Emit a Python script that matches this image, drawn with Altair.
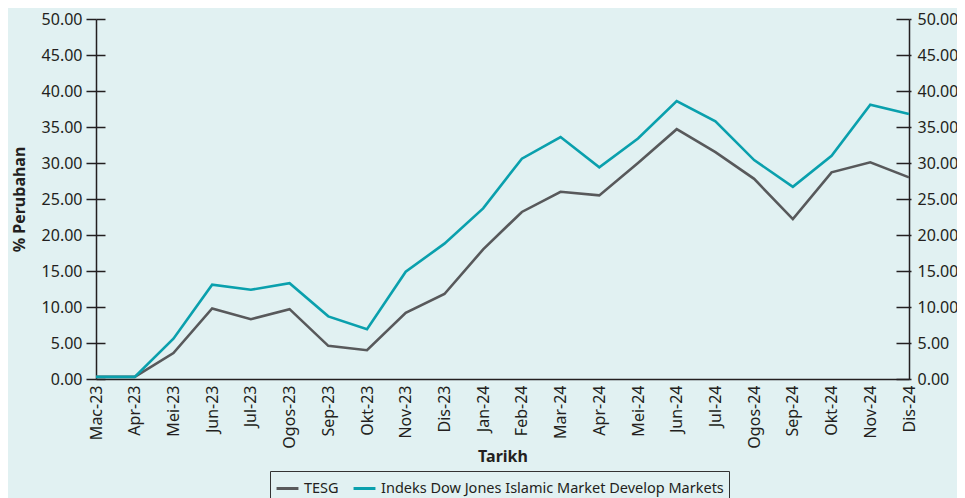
import altair as alt
import pandas as pd

months = ["Mac-23", "Apr-23", "Mei-23", "Jun-23", "Jul-23", "Ogos-23", "Sep-23", "Okt-23",
          "Nov-23", "Dis-23", "Jan-24", "Feb-24", "Mar-24", "Apr-24", "Mei-24", "Jun-24",
          "Jul-24", "Ogos-24", "Sep-24", "Okt-24", "Nov-24", "Dis-24"]
tesg = [0.3, 0.3, 3.6, 9.8, 8.3, 9.7, 4.6, 4.0, 9.2, 11.8, 18.0, 23.2,
        26.0, 25.5, 30.0, 34.7, 31.5, 27.8, 22.2, 28.7, 30.1, 28.0]
djim = [0.3, 0.3, 5.6, 13.1, 12.4, 13.3, 8.7, 6.9, 14.9, 18.8, 23.7, 30.6,
        33.6, 29.4, 33.4, 38.6, 35.8, 30.4, 26.7, 31.0, 38.1, 36.8]
series_names = ["TESG", "Indeks Dow Jones Islamic Market Develop Markets"]
series_colors = ["#58595B", "#0AA0AD"]
y_ticks = [0, 5, 10, 15, 20, 25, 30, 35, 40, 45, 50]

rows = []
for i, m in enumerate(months):
    rows.append({"Bulan": m, "Siri": series_names[0], "Nilai": tesg[i], "o": i})
    rows.append({"Bulan": m, "Siri": series_names[1], "Nilai": djim[i], "o": i})
df = pd.DataFrame(rows)

FONT = "Noto Sans"
TXT = "#231F20"

xenc = alt.X("Bulan:N", sort=months,
             scale=alt.Scale(type="point", padding=0),
             axis=alt.Axis(title="Tarikh", labelAngle=270, labelFontSize=16,
                           labelColor=TXT, labelFont=FONT, labelPadding=6,
                           ticks=False, domainColor=TXT, domainWidth=1.5,
                           titleFont=FONT, titleFontSize=16, titleFontWeight="bold",
                           titleColor=TXT, titlePadding=0, grid=False))

yscale = alt.Scale(domain=[0, 50], nice=False, zero=True)

def yenc(axis):
    return alt.Y("Nilai:Q", scale=yscale, axis=axis)

base = alt.Chart(df)

lines = base.mark_line(strokeWidth=2.6).encode(
    x=xenc,
    y=yenc(alt.Axis(orient="left", values=y_ticks, format=".2f",
                    title="% Perubahan", titleFont=FONT, titleFontSize=16,
                    titleFontWeight="bold", titleColor=TXT, titlePadding=14,
                    labelFont=FONT, labelFontSize=16, labelColor=TXT, labelPadding=4,
                    tickSize=10, tickColor=TXT, tickWidth=1.5,
                    domainColor=TXT, domainWidth=1.5, grid=False)),
    color=alt.Color("Siri:N", scale=alt.Scale(domain=series_names, range=series_colors),
                    legend=alt.Legend(title=None, orient="none", legendX=174, legendY=452,
                                      direction="horizontal", symbolType="stroke",
                                      symbolStrokeWidth=3, symbolSize=480,
                                      labelFont=FONT, labelFontSize=14.5, labelColor=TXT,
                                      strokeColor="#333333", padding=5,
                                      columnPadding=8, labelLimit=500)),
    order="o:Q",
)

left_inner = base.mark_line(opacity=0).encode(
    x=xenc,
    y=yenc(alt.Axis(orient="left", values=y_ticks, offset=-9, tickSize=9,
                    tickColor=TXT, tickWidth=1.5, labels=False, domain=False,
                    title=None, grid=False)),
    detail="Siri:N",
)

right_axis = base.mark_line(opacity=0).encode(
    x=xenc,
    y=yenc(alt.Axis(orient="right", values=y_ticks, format=".2f", tickSize=2,
                    tickColor=TXT, tickWidth=1.5, labelFont=FONT, labelFontSize=16,
                    labelColor=TXT, labelPadding=6, domainColor=TXT, domainWidth=1.5,
                    title=None, grid=False)),
    detail="Siri:N",
)

right_inner = base.mark_line(opacity=0).encode(
    x=xenc,
    y=yenc(alt.Axis(orient="right", values=y_ticks, offset=-13, tickSize=13,
                    tickColor=TXT, tickWidth=1.5, labels=False, domain=False,
                    title=None, grid=False)),
    detail="Siri:N",
)

chart = alt.layer(lines, left_inner, right_axis, right_inner).resolve_axis(
    y="independent"
).properties(
    width=813, height=360,
    autosize=alt.AutoSizeParams(type="none"),
    padding={"left": 88, "top": 11, "right": 48, "bottom": 126},
    background="#E1F1F2",
).configure_view(stroke=None)

chart.save("out.html", embed_options={"renderer": "svg", "actions": False})
